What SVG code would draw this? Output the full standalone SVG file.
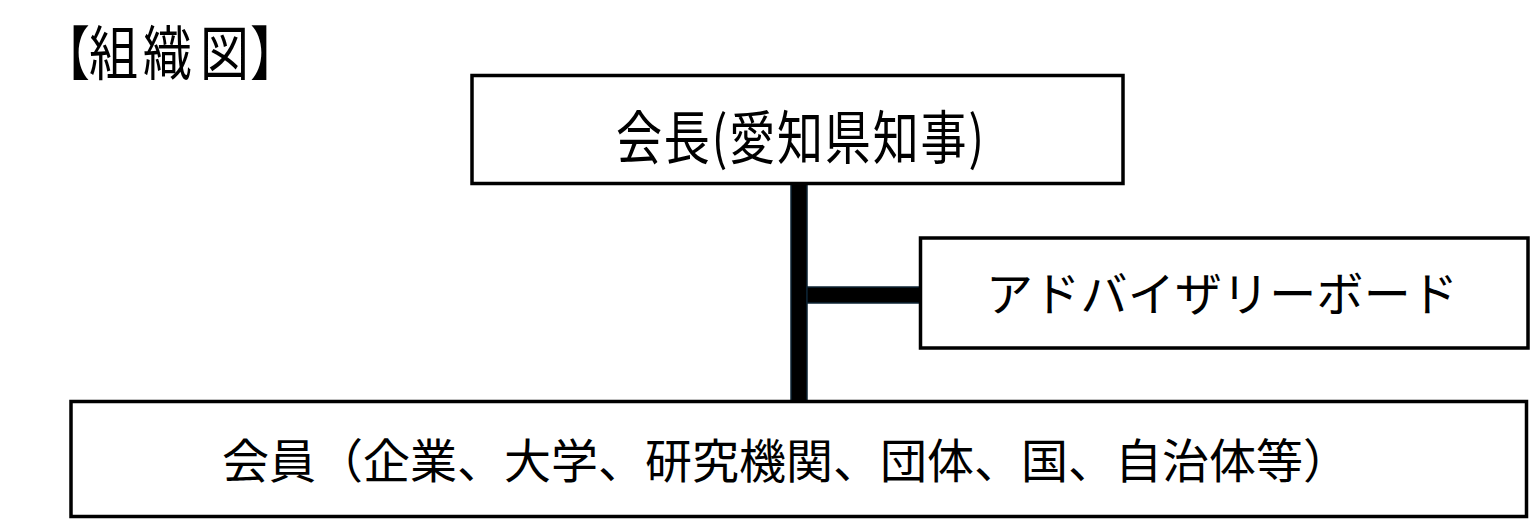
<svg xmlns="http://www.w3.org/2000/svg" width="1530" height="519" viewBox="0 0 1530 519">
  <style>
    .box { fill: #ffffff; stroke: #000000; stroke-width: 3.5; }
    .bar { fill: #000000; stroke: #0c2333; stroke-width: 1.5; }
    .sans { font-family: "Noto Sans CJK JP", "Noto Sans", sans-serif; fill: #000000; }
  </style>
  <rect width="1530" height="519" fill="#ffffff"/>
  <g id="title">
    <text class="sans" font-size="49" transform="translate(0,75) scale(1,1.2)"><tspan x="41 89 143 200 250" y="0">【組織図】</tspan></text>
  </g>
  <g id="connectors">
    <rect class="bar" x="791" y="184" width="16" height="217"/>
    <rect class="bar" x="807" y="287" width="113" height="16"/>
  </g>
  <g id="node-president">
    <rect class="box" x="472" y="75.5" width="651" height="108"/>
    <text class="sans" font-size="46" transform="translate(616,159) scale(1,1.27)" x="0" y="0" textLength="368" lengthAdjust="spacing">会長(愛知県知事)</text>
  </g>
  <g id="node-advisory">
    <rect class="box" x="920.5" y="238" width="607.5" height="110"/>
    <text class="sans" font-size="47" x="986" y="311" textLength="472" lengthAdjust="spacing">アドバイザリーボード</text>
  </g>
  <g id="node-members">
    <rect class="box" x="71" y="401.5" width="1455.5" height="115"/>
    <text class="sans" font-size="47" x="222" y="478">会員（企業、大学、研究機関、団体、国、自治体等）</text>
  </g>
</svg>
